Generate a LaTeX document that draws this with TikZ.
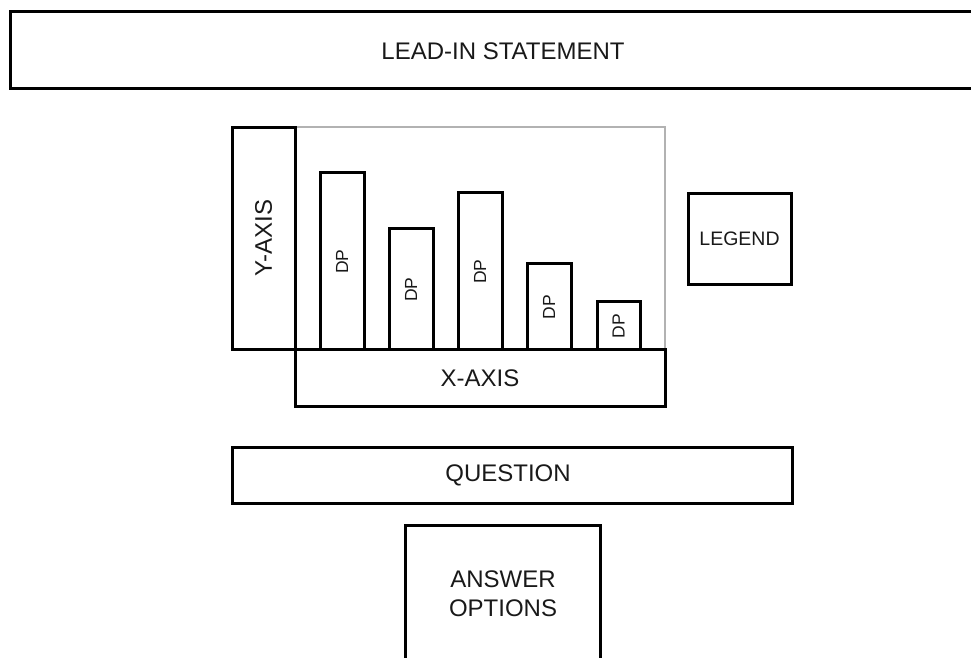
\documentclass[tikz,border=0pt]{standalone}
\usepackage{fontspec}
\setmainfont{Liberation Sans}
\begin{document}
\begin{tikzpicture}[x=1pt,y=-1pt,
  box/.style={draw=black,line width=3pt,line join=miter},
  lbl/.style={font=\fontsize{24}{29}\selectfont,align=center,text=black!90},
  dplbl/.style={font=\fontsize{17.5}{20}\selectfont,rotate=90,text=black!90},
  leglbl/.style={font=\fontsize{19.5}{22}\selectfont,text=black!90}]
\useasboundingbox (0,0) rectangle (971,657);
\begin{scope}
\clip (0,0) rectangle (971,657);
% lead-in
\draw[box] (10,11) rectangle (997,88);
\node[lbl] (lead) at (503,51) {LEAD-IN STATEMENT};
% chart frame
\draw[draw=black!30,line width=1.8pt] (295,127) -- (665,127) -- (665,349);
% bars
\foreach \i/\xa/\xb/\yt in {1/320/364/172,2/389/433/228,3/458/502/192,4/527/571/263,5/597/640/301}{
  \draw[box] (\xa,349) rectangle (\xb,\yt);
  \node[dplbl] (dp\i) at ({(\xa+\xb)/2},{(\yt+349)/2+1}) {DP};
}
% y axis
\draw[box] (232,127) rectangle (295,349);
\node[lbl,rotate=90] (yaxis) at (263.5,238) {Y-AXIS};
% x axis
\draw[box] (295,349) rectangle (665,406);
\node[lbl] (xaxis) at (480,378) {X-AXIS};
% legend
\draw[box] (688,193) rectangle (791,284);
\node[leglbl] (legend) at (739.5,238.5) {LEGEND};
% question
\draw[box] (232,447) rectangle (792,503);
\node[lbl] (question) at (508,475) {QUESTION};
% answer options
\draw[box] (405,700) -- (405,525) -- (600,525) -- (600,700);
\node[lbl] (answer) at (503,594) {ANSWER\\OPTIONS};
\end{scope}
\end{tikzpicture}
\end{document}
